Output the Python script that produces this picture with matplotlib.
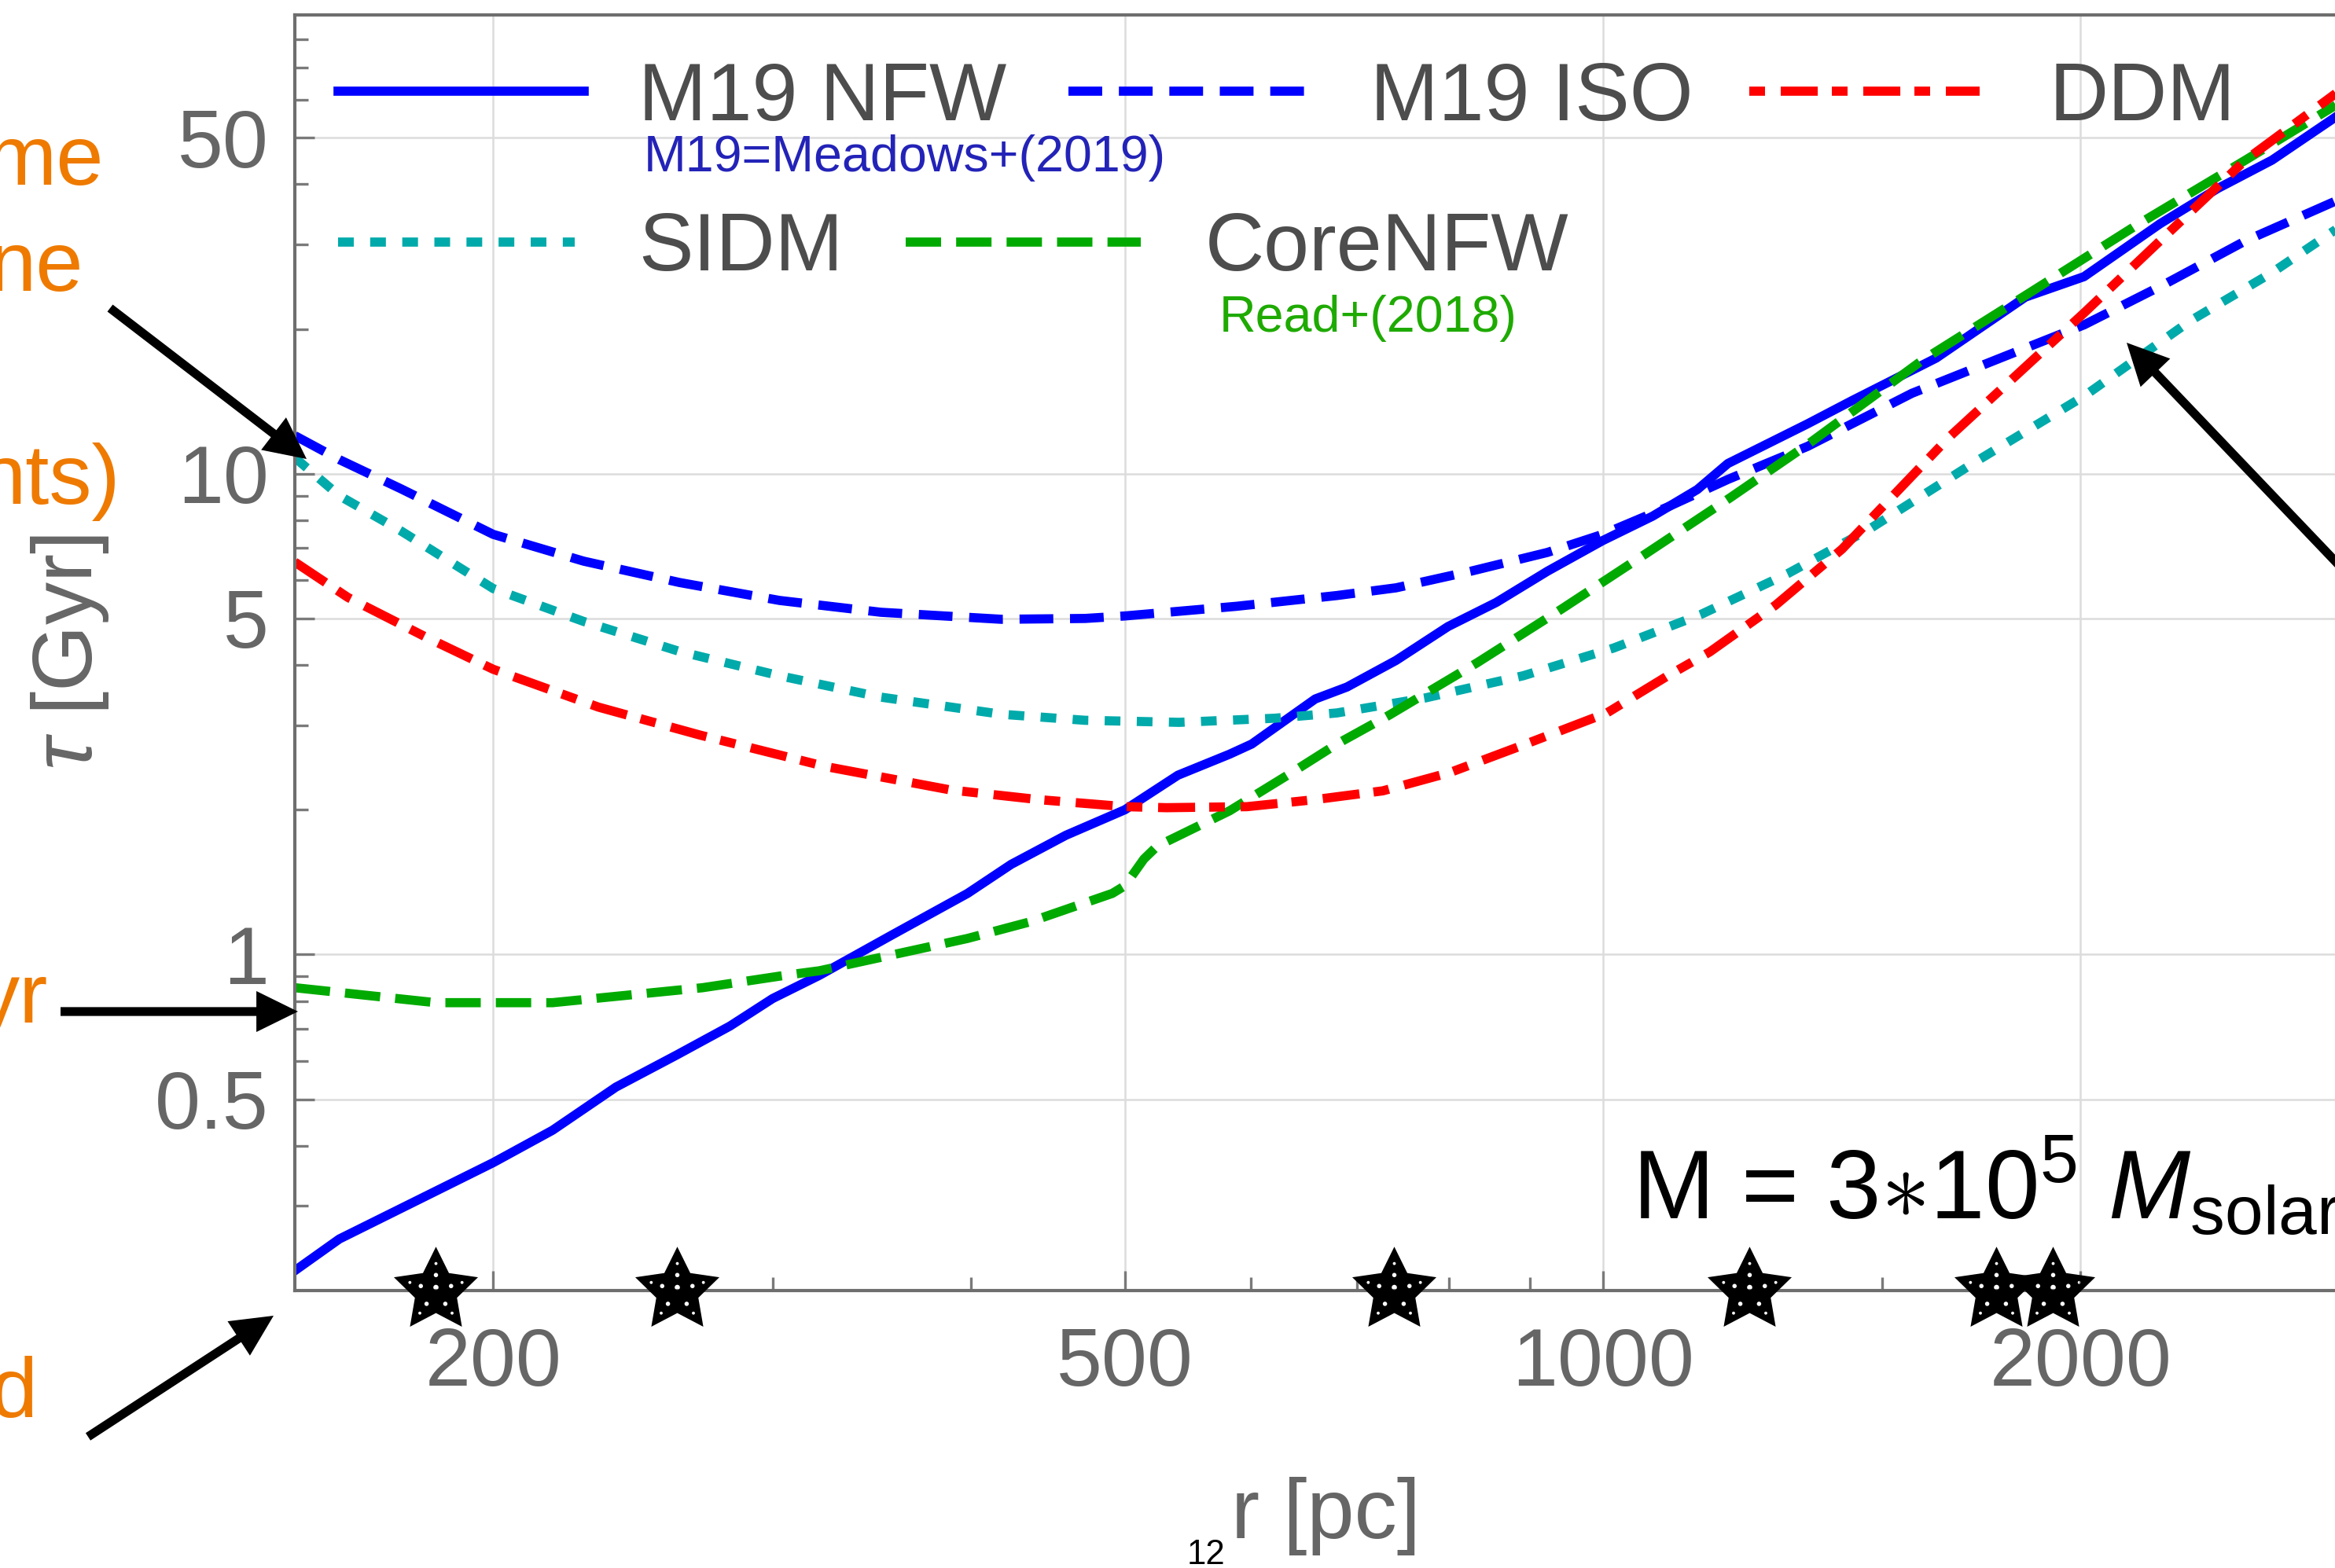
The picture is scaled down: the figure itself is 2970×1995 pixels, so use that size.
import numpy as np
import matplotlib.pyplot as plt
from matplotlib.path import Path
from matplotlib.patches import FancyArrowPatch
from matplotlib.ticker import NullFormatter

plt.rcParams['font.family'] = 'Liberation Sans'
plt.rcParams['mathtext.fontset'] = 'custom'
plt.rcParams['mathtext.rm'] = 'Liberation Sans'
plt.rcParams['mathtext.it'] = 'Liberation Sans:italic'
plt.rcParams['lines.scale_dashes'] = False

# tau(r) curves, r in pc, tau in Gyr
r_nfw = [150, 160, 200, 218, 239, 261, 282, 300, 321, 357, 398, 424, 459, 500,
         540, 582, 601, 659, 690, 741, 799, 857, 923, 1000, 1075, 1147, 1199,
         1346, 1436, 1622, 1846, 2010, 2244, 2440, 2640, 2900]
tau_nfw = [0.22, 0.256, 0.369, 0.431, 0.53, 0.618, 0.71, 0.81, 0.905, 1.10, 1.34,
           1.54, 1.77, 2.0, 2.36, 2.61, 2.74, 3.40, 3.60, 4.09, 4.81, 5.40, 6.27,
           7.26, 8.16, 9.27, 10.5, 12.7, 14.2, 17.4, 23.3, 25.7, 33.1, 39.2, 44.9, 55.4]

r_iso = [150, 160, 175, 200, 228, 262, 303, 351, 418, 472, 500, 588, 680, 741,
         826, 923, 1000, 1099, 1199, 1346, 1566, 1788, 2010, 2260, 2540, 2900]
tau_iso = [12.0, 10.7, 9.3, 7.48, 6.58, 5.94, 5.45, 5.15, 4.98, 5.0, 5.06, 5.3,
           5.58, 5.79, 6.27, 6.86, 7.48, 8.53, 9.73, 11.4, 14.7, 17.5, 20.4, 24.8,
           30.5, 37.0]

r_ddm = [150, 162, 181, 200, 233, 270, 324, 388, 441, 500, 531, 597, 659, 727,
         801, 884, 1006, 1099, 1168, 1285, 1415, 1652, 2010, 2345, 2540, 2900]
tau_ddm = [6.55, 5.53, 4.59, 3.92, 3.27, 2.86, 2.46, 2.20, 2.10, 2.03, 2.02, 2.03,
           2.10, 2.19, 2.39, 2.70, 3.18, 3.80, 4.26, 5.33, 6.97, 11.9, 21.6, 35.0,
           44.9, 62.0]

r_sidm = [150, 160, 175, 200, 228, 262, 303, 351, 418, 472, 541, 621, 680, 774,
          891, 1016, 1152, 1308, 1472, 1718, 2010, 2345, 2640, 2900]
tau_sidm = [10.8, 9.0, 7.6, 5.77, 4.93, 4.27, 3.80, 3.43, 3.16, 3.07, 3.04, 3.10,
            3.18, 3.42, 3.80, 4.34, 5.09, 6.2, 7.67, 10.6, 14.5, 20.8, 26.2, 32.3]

r_core = [150, 184, 218, 271, 306, 321, 398, 436, 491, 500, 514, 524, 582, 637,
          680, 734, 834, 942, 1064, 1204, 1346, 1589, 1858, 2173, 2540, 2900]
tau_core = [0.853, 0.794, 0.794, 0.853, 0.906, 0.925, 1.08, 1.17, 1.34, 1.39, 1.58,
            1.68, 1.99, 2.39, 2.74, 3.15, 4.05, 5.23, 6.81, 8.93, 11.5, 17.2, 23.8,
            33.0, 44.9, 58.6]

# radii of the star markers along the bottom axis
r_stars = [184, 261, 739, 1237, 1770, 1920]

labels = ['M19 NFW', 'M19 ISO', 'DDM', 'SIDM', 'CoreNFW']

x_major = [200, 500, 1000, 2000]
x_minor = [300, 400, 600, 700, 800, 900, 1500]
y_major = [0.5, 1, 5, 10, 50]
y_major_labels = ['0.5', '1', '5', '10', '50']
y_minor = [0.3, 0.4, 0.6, 0.7, 0.8, 0.9, 2, 3, 4, 6, 7, 8, 9, 20, 30, 40, 60, 70, 80]

BLUE, CYAN, RED, GREEN = '#0000ff', '#00aaaa', '#ff0000', '#00aa00'
ORANGE = '#ef7a00'
LW = 2.8
styles = {
    'M19 NFW': dict(color=BLUE, ls='-'),
    'M19 ISO': dict(color=BLUE, ls=(0, (10.3, 5.1))),
    'DDM': dict(color=RED, ls=(0, (11.3, 4.3, 4.8, 4.8))),
    'SIDM': dict(color=CYAN, ls=(0, (4.8, 5.0))),
    'CoreNFW': dict(color=GREEN, ls=(0, (10.8, 4.6))),
}

W, H = 2970, 1995
fig = plt.figure(figsize=(W / 300, H / 300), dpi=300)
ax = fig.add_axes([375 / W, 1 - 1642 / H, (3002 - 375) / W, (1642 - 19) / H])


def fxy(X, Y):
    # pixel position -> figure fraction
    return X / W, 1 - Y / H


ax.plot(r_nfw, tau_nfw, lw=LW, **styles['M19 NFW'])
ax.plot(r_iso, tau_iso, lw=LW, **styles['M19 ISO'])
ax.plot(r_sidm, tau_sidm, lw=LW, **styles['SIDM'])
ax.plot(r_core, tau_core, lw=LW, **styles['CoreNFW'])
ax.plot(r_ddm, tau_ddm, lw=LW, **styles['DDM'])

ax.set_xscale('log')
ax.set_yscale('log')
ax.set_xlim(150, 3000)
ax.set_ylim(0.2, 90)

ax.set_xticks(x_major, [str(v) for v in x_major])
ax.set_xticks(x_minor, minor=True)
ax.set_yticks(y_major, y_major_labels)
ax.set_yticks(y_minor, minor=True)
ax.xaxis.set_minor_formatter(NullFormatter())
ax.yaxis.set_minor_formatter(NullFormatter())
ax.tick_params(which='both', direction='in', color='#7a7a7a', width=0.8,
               top=False, right=False)
ax.tick_params(which='major', length=6)
ax.tick_params(which='minor', length=4)
ax.tick_params(axis='x', labelsize=25, labelcolor='#666666', pad=11)
ax.tick_params(axis='y', labelsize=25, labelcolor='#666666', pad=8)
ax.grid(True, which='major', color='#dcdcdc', lw=0.6)
ax.set_axisbelow(True)
for sp in ax.spines.values():
    sp.set_color('#6e6e6e')
    sp.set_linewidth(1.0)

# starfish marker: five-point star with small holes
def starfish():
    ang_out = np.deg2rad(90 + 72 * np.arange(5))
    ang_in = ang_out + np.deg2rad(36)
    pts = []
    for a, b in zip(ang_out, ang_in):
        pts.append((np.cos(a), np.sin(a)))
        pts.append((0.5 * np.cos(b), 0.5 * np.sin(b)))
    verts = pts + [pts[0]]
    codes = [Path.MOVETO] + [Path.LINETO] * 9 + [Path.CLOSEPOLY]
    holes = [(0.0, 0.08, 0.06)]
    for a in ang_out:
        holes.append((0.36 * np.cos(a), 0.36 * np.sin(a), 0.05))
        holes.append((0.62 * np.cos(a), 0.62 * np.sin(a), 0.035))
    t = np.linspace(0, 2 * np.pi, 13)[::-1]
    for cx, cy, rad in holes:
        ring = [(cx + rad * np.cos(s), cy + rad * np.sin(s)) for s in t]
        verts += ring
        codes += [Path.MOVETO] + [Path.LINETO] * 11 + [Path.CLOSEPOLY]
    return Path(verts, codes)


ax.plot(r_stars, np.zeros(len(r_stars)), transform=ax.get_xaxis_transform(),
        ls='none', marker=starfish(), ms=27, mfc='black', mec='none',
        clip_on=False, zorder=5)

# legend, laid out by hand in axes fraction
legend_rows = [
    ('M19 NFW', 0.021, 0.140, 0.9402, 0.1664, 0.9174),
    ('M19 ISO', 0.3746, 0.4895, 0.9402, 0.5207, 0.9174),
    ('DDM', 0.7042, 0.8158, 0.9402, 0.8496, 0.9174),
    ('SIDM', 0.021, 0.1355, 0.8219, 0.1664, 0.7998),
    ('CoreNFW', 0.2958, 0.4097, 0.8219, 0.4409, 0.7998),
]
for name, x0, x1, yl, xt, yt in legend_rows:
    st = dict(styles[name])
    if name == 'DDM':
        st['ls'] = (15.6, (11.3, 4.3, 4.8, 4.8))
    ax.plot([x0, x1], [yl, yl], transform=ax.transAxes, lw=LW, clip_on=False, **st)
    ax.text(xt, yt, name, transform=ax.transAxes, fontsize=25, color='#4d4d4d',
            ha='left', va='baseline')
ax.text(0.169, 0.8774, 'M19=Meadows+(2019)', transform=ax.transAxes,
        fontsize=15.5, color='#2323b8', ha='left', va='baseline')
ax.text(0.4476, 0.7517, 'Read+(2018)', transform=ax.transAxes,
        fontsize=15.5, color='#1eaa00', ha='left', va='baseline')

fig.text(*fxy(2076, 1551), r'M = 3$\ast$10$^{5}$ $M_{\mathrm{solar}}$',
         fontsize=30, color='black', ha='left', va='baseline')

# axis titles
fig.text(*fxy(89, 830), r'$\tau$ [Gyr]', rotation=90, fontsize=26,
         color='#666666', ha='center', va='center')
fig.text(*fxy(1566, 1957), 'r [pc]', fontsize=26, color='#666666',
         ha='left', va='baseline')
fig.text(*fxy(1510, 1990), '12', fontsize=10.5, color='black',
         ha='left', va='baseline')

# side notes
for txt, X, Y in [('me', 132, 235), ('ne', 106, 370), ('nts)', 153, 641),
                  ('yr', 61, 1301), ('d', 48, 1803)]:
    fig.text(*fxy(X, Y), txt, fontsize=26, color=ORANGE, ha='right', va='baseline')

arrows = [((140, 392), (390, 584)),
          ((77, 1287), (379, 1287)),
          ((112, 1828), (348, 1674)),
          ((3100, 850), (2705, 436))]
for tail, tip in arrows:
    fig.add_artist(FancyArrowPatch(
        fxy(*tail), fxy(*tip), transform=fig.transFigure,
        arrowstyle='simple,head_length=1.27,head_width=1.25,tail_width=0.27',
        mutation_scale=10, color='black', lw=0, shrinkA=0, shrinkB=0,
        zorder=6))

fig.savefig('out.png', dpi=300)
